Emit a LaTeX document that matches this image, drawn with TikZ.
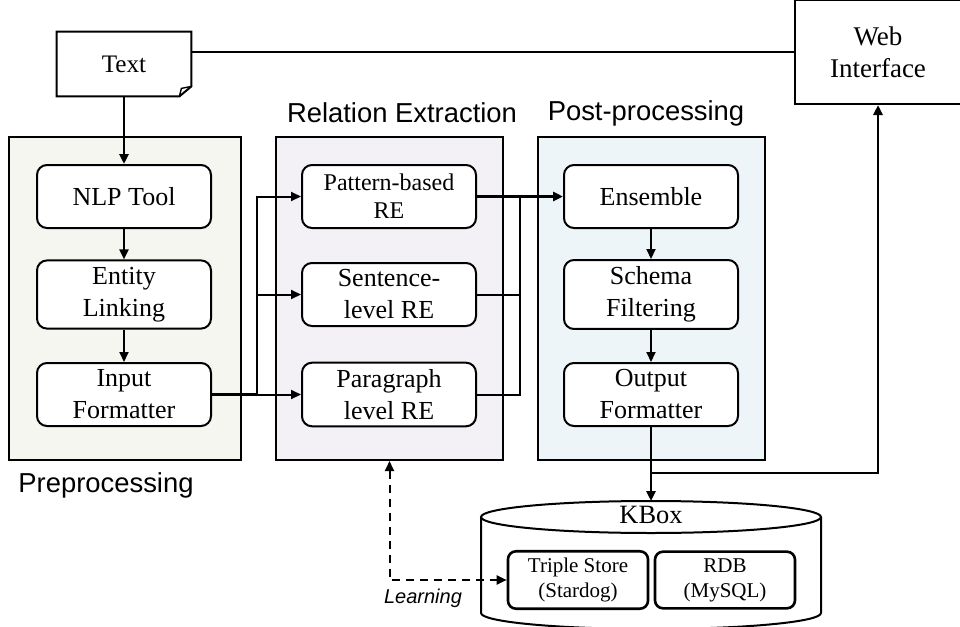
\documentclass[tikz,border=0pt]{standalone}
\usepackage{fontspec}
\setmainfont{Liberation Serif}
\setsansfont{Liberation Sans}
\usetikzlibrary{arrows.meta}
\definecolor{preback}{HTML}{F5F6F0}
\definecolor{relback}{HTML}{F3F0F6}
\definecolor{postback}{HTML}{EEF5F8}

\begin{document}
\begin{tikzpicture}[x=0.5pt,y=-0.5pt]
\tikzstyle{box}=[draw,line width=1pt,rounded corners=5pt,minimum width=87pt,minimum height=31.5pt,align=center,fill=white,font=\fontsize{13}{16}\selectfont]
\tikzstyle{store}=[draw,line width=1.3pt,rounded corners=4pt,minimum width=70pt,minimum height=27pt,align=center,fill=white,font=\fontsize{10.5}{12.5}\selectfont]
\tikzstyle{group}=[draw,line width=1pt,minimum width=113.5pt,minimum height=161.5pt]
\tikzstyle{title}=[font=\sffamily\fontsize{13.7}{16}\selectfont]
\tikzstyle{line}=[line width=1pt]
\tikzstyle{arr}=[line width=1pt,-{Triangle[length=5pt,width=4.5pt]}]
\useasboundingbox (0,0) rectangle (960,627);

\node[group,fill=preback,minimum width=116pt]  (pre)  at (125,298.5) {};
\node[group,fill=relback]  (rel)  at (389.5,298.5) {};
\node[group,fill=postback] (post) at (651.5,298.5) {};
\node[title] (pretitle)  at (106,485) {Preprocessing};
\node[title] (reltitle)  at (402,113) {Relation Extraction};
\node[title] (posttitle) at (646,113) {Post-processing};

\node[minimum width=67pt,minimum height=32pt,font=\fontsize{12.6}{15}\selectfont] (txt) at (124,64) {Text};
\draw[line] (txt.north west) -- (txt.north east) -- ([yshift=5pt]txt.south east)
  -- ([xshift=-6pt]txt.south east) -- (txt.south west) -- cycle;
\draw[line,line width=0.7pt] ([xshift=-6pt]txt.south east) -- ([xshift=-5pt,yshift=4pt]txt.south east) -- ([yshift=5pt]txt.south east);
\node[draw,line width=1pt,minimum width=83pt,minimum height=52pt,align=center,font=\fontsize{13.5}{16}\selectfont] (web) at (878,52) {Web\\Interface};

\node[box] (nlp) at (124,196.5) {NLP Tool};
\node[box] (ent) at (124,294.5) {Entity\\Linking};
\node[box] (inp) at (124,394.5) {Input\\Formatter};
\node[box,font=\fontsize{12}{14}\selectfont] (pat) at (389,196.5) {Pattern-based\\RE};
\node[box] (sen) at (389,294.5) {Sentence-\\level RE};
\node[box] (par) at (389,394.5) {Paragraph\\level RE};
\node[box] (ens) at (651,196.5) {Ensemble};
\node[box] (sch) at (651,294.5) {Schema\\Filtering};
\node[box] (out) at (651,394.5) {Output\\Formatter};

\draw[line,fill=white] (481,517) -- (481,613) arc[start angle=180,end angle=360,x radius=85pt,y radius=8pt] -- (821,517);
\draw[line,fill=white] (651,517) ellipse[x radius=85pt,y radius=8pt];
\node[font=\fontsize{13.2}{16}\selectfont] (kbox) at (651,515) {KBox};
\coordinate (kbtop) at (651,501);
\node[store] (tri) at (578,580) {Triple Store\\(Stardog)};
\node[store] (rdb) at (725,580) {RDB\\(MySQL)};

\coordinate (split) at (257,394.5);
\coordinate (merge) at (520,196.5);
\coordinate (turn)  at (651,473);

\draw[line] (web.west -| txt.east) -- (web.west);
\draw[arr,line width=1.3pt] (txt.south) -- (nlp.north);
\draw[arr] (nlp) -- (ent);
\draw[arr] (ent) -- (inp);
\draw[line,line width=1.3pt] (inp.east) -- (split);
\draw[arr] (split) |- (pat.west);
\draw[arr] (split) |- (sen.west);
\draw[arr] (split) -- (par.west);
\draw[arr,line width=1.3pt] (pat.east) -- (ens.west);
\draw[line] (sen.east) -| (merge);
\draw[line] (par.east) -| (merge);
\draw[arr] (ens) -- (sch);
\draw[arr] (sch) -- (out);
\draw[arr,line width=1.3pt] (out.south) -- (kbtop);
\draw[arr,line width=1.3pt] (turn) -| (web.south);
\draw[line,dashed,dash pattern=on 4pt off 3pt,{Triangle[length=5pt,width=4.5pt]}-{Triangle[length=5pt,width=4.5pt]}] (rel.south) |- (tri.west);
\node[font=\sffamily\itshape\fontsize{10}{12}\selectfont] (learn) at (423,598) {Learning};
\end{tikzpicture}
\end{document}
